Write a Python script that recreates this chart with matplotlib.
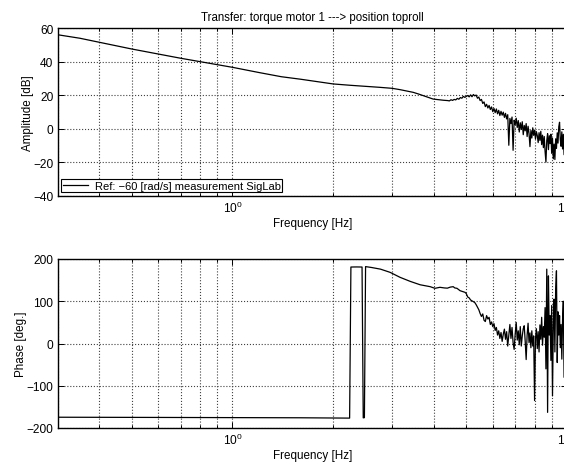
import numpy as np
import matplotlib
matplotlib.use("Agg")
import matplotlib.pyplot as plt
from matplotlib.ticker import LogLocator

plt.rcParams['font.family'] = ['Liberation Sans', 'DejaVu Sans']
plt.rcParams['mathtext.fontset'] = 'custom'
plt.rcParams['mathtext.rm'] = 'Liberation Sans'

# ---- measured frequency response (SigLab) ----
# smooth low-frequency part of the amplitude curve
freq_amp_low = [0.30, 0.35, 0.40, 0.45, 0.50, 0.60, 0.70, 0.80, 0.90, 1.00,
                1.20, 1.40, 1.60, 1.80, 2.00, 2.25, 2.50, 2.75, 3.00, 3.17,
                3.30, 3.47, 3.60, 3.72, 3.85, 3.98, 4.10, 4.27, 4.40, 4.45,
                4.50, 4.55, 4.60, 4.65, 4.70, 4.75, 4.80, 4.85, 4.90, 4.95]
amp_low = [56.0, 53.9, 51.5, 49.4, 47.5, 44.5, 42.0, 40.0, 38.2, 36.6,
           33.5, 31.0, 29.5, 28.0, 26.7, 25.9, 25.3, 24.7, 24.1, 23.3,
           22.6, 21.7, 20.7, 19.7, 18.6, 17.7, 17.4, 17.0, 16.8, 16.6,
           17.3, 16.9, 17.5, 17.2, 18.1, 17.6, 18.6, 18.2, 19.3, 18.7]

# noisy high-frequency part, 5.00 ... 10.00 Hz in 0.05 Hz steps
freq_high = [5.00, 5.05, 5.10, 5.15, 5.20, 5.25, 5.30, 5.35, 5.40, 5.45,
             5.50, 5.55, 5.60, 5.65, 5.70, 5.75, 5.80, 5.85, 5.90, 5.95,
             6.00, 6.05, 6.10, 6.15, 6.20, 6.25, 6.30, 6.35, 6.40, 6.45,
             6.50, 6.55, 6.60, 6.65, 6.70, 6.75, 6.80, 6.85, 6.90, 6.95,
             7.00, 7.05, 7.10, 7.15, 7.20, 7.25, 7.30, 7.35, 7.40, 7.45,
             7.50, 7.55, 7.60, 7.65, 7.70, 7.75, 7.80, 7.85, 7.90, 7.95,
             8.00, 8.05, 8.10, 8.15, 8.20, 8.25, 8.30, 8.35, 8.40, 8.45,
             8.50, 8.55, 8.60, 8.65, 8.70, 8.75, 8.80, 8.85, 8.90, 8.95,
             9.00, 9.05, 9.10, 9.15, 9.20, 9.25, 9.30, 9.35, 9.40, 9.45,
             9.50, 9.55, 9.60, 9.65, 9.70, 9.75, 9.80, 9.85, 9.90, 9.95,
             10.00]
amp_high = [19.3, 19.8, 19.0, 20.2, 19.1, 20.4, 19.6, 20.1, 18.2, 18.9,
            16.8, 17.5, 15.1, 16.0, 13.2, 14.6, 12.4, 13.9, 11.5, 13.0,
            10.2, 12.1, 9.6, 11.8, 8.9, 11.0, 7.9, 10.4, 8.1, 9.9,
            6.8, 9.2, 5.9, 8.4, -9.8, 6.2, 3.1, 7.0, -12.8, 5.1,
            2.4, 6.3, 0.8, 4.9, -1.9, 3.6, -0.4, 4.2, -3.5, 2.0,
            -1.2, 3.1, -4.6, 1.5, -2.8, -10.6, -1.0, -5.5, 0.6, -3.9,
            -0.8, -6.1, -1.7, -4.0, -8.2, -2.3, -6.9, -1.5, -9.4, -3.8,
            -11.2, -4.6, -13.5, -19.8, -7.0, -2.9, -12.4, -4.1, -8.8, -3.2,
            -14.6, -5.7, -17.9, -9.1, -18.3, -6.0, -11.7, -2.4, -8.5, 1.2,
            3.9, -6.3, -10.4, -1.8, -12.0, -3.3, -15.4, -5.2, -9.0, -2.6,
            -7.4]

# phase, smooth part (includes the wrap-around near 2.25 Hz)
freq_ph_low = [0.30, 0.40, 0.60, 0.80, 1.00, 1.30, 1.60, 2.00, 2.24, 2.26,
               2.35, 2.44, 2.46, 2.48, 2.50, 2.60, 2.77, 2.96, 3.17, 3.40,
               3.64, 3.90, 4.03, 4.17, 4.30, 4.39, 4.48, 4.57, 4.62, 4.69,
               4.79, 4.88, 4.96]
phase_low = [-174.5, -174.8, -175.0, -175.2, -175.4, -175.6, -175.8, -176.2, -176.6, 181.0,
             181.2, 181.0, -176.0, -175.5, 182.0, 180.0, 176.0, 168.4, 156.6, 147.0,
             139.0, 134.5, 130.6, 133.0, 131.5, 131.0, 133.5, 134.5, 131.5, 130.6,
             125.0, 123.0, 121.0]
phase_high = [118, 110, 108, 103, 101, 99, 97, 92, 86, 80,
              71, 64, 70, 55, 52, 66, 58, 62, 45, 51,
              40, 47, 31, 38, 20, 30, 12, 26, 5, 22,
              34, 10, 28, -6, 20, 45, 12, 38, 2, -14,
              22, 50, 8, 30, -3, 40, -6, 18, 35, 42,
              5, -38, 20, 48, 2, 25, -10, 30, -6, 18,
              -135, 12, 35, -12, 28, -20, 44, 10, 62, -4,
              40, 15, 85, -60, 176, -163, 160, 20, 66, -40,
              90, -124, 40, 105, -20, 130, 172, -45, 75, 20,
              66, -10, 45, -37, 56, 100, -80, 150, 10, -60,
              40]

amp_ticks = [-40, -20, 0, 20, 40, 60]
phase_ticks = [-200, -100, 0, 100, 200]

title_text = "Transfer: torque motor 1 ---> position toproll"
legend_text = "Ref: \u221260 [rad/s] measurement SigLab"

freq_amp = np.array(freq_amp_low + freq_high)
amp = np.array(amp_low + amp_high)
freq_ph = np.array(freq_ph_low + freq_high)
phase = np.array(phase_low + phase_high, dtype=float)

W, H = 564, 464
fig = plt.figure(figsize=(W / 100, H / 100), dpi=100)
fig.patch.set_facecolor('white')

left = 57.5 / W
width = (567 - 57.5) / W
ax1 = fig.add_axes([left, (H - 197) / H, width, 168 / H])
ax2 = fig.add_axes([left, (H - 429) / H, width, 169 / H])

FS = 8.4


def style(ax, yticks, ylabel):
    ax.set_xscale('log')
    ax.set_xlim(0.3, 10)
    ax.set_ylim(yticks[0], yticks[-1])
    ax.set_yticks(yticks)
    ax.xaxis.set_major_locator(LogLocator(base=10))
    ax.xaxis.set_minor_locator(LogLocator(base=10, subs=np.arange(2, 10)))
    ax.tick_params(which='both', direction='in', top=True, right=True,
                   labelsize=8.6, width=0.7, pad=3)
    ax.tick_params(which='major', length=4)
    ax.tick_params(which='minor', length=2.5)
    ax.grid(True, which='major', axis='both', linestyle=':', color='0.25', linewidth=0.8)
    ax.grid(True, which='minor', axis='x', linestyle=':', color='0.25', linewidth=0.8)
    for s in ax.spines.values():
        s.set_linewidth(1.0)
    ax.set_xlabel('Frequency [Hz]', fontsize=FS, labelpad=1.5)
    ax.set_ylabel(ylabel, fontsize=FS, labelpad=-0.5)


ax1.plot(freq_amp, amp, color='black', linewidth=0.9,
         label=legend_text)
style(ax1, amp_ticks, 'Amplitude [dB]')
ax1.set_title(title_text, fontsize=8.3, pad=6)
leg = ax1.legend(loc='lower left', fontsize=8.0, frameon=True, fancybox=False,
                 borderpad=0.12, handlelength=2.3, handletextpad=0.6,
                 borderaxespad=0.35)
leg.get_frame().set_edgecolor('black')
leg.get_frame().set_linewidth(0.8)
leg.get_frame().set_alpha(1.0)

ax2.plot(freq_ph, phase, color='black', linewidth=0.9)
style(ax2, phase_ticks, 'Phase [deg.]')

fig.savefig('out.png', dpi=100)
